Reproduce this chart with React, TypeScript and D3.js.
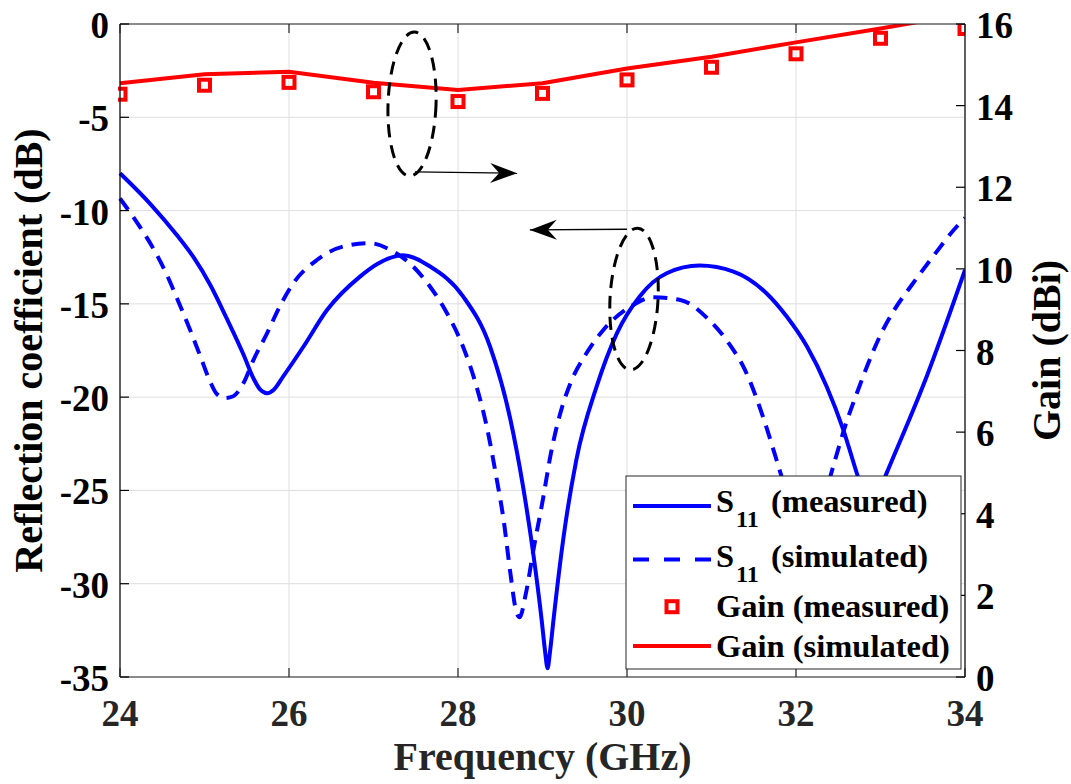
import React from 'react';
import * as d3 from 'd3';

// ---------- data ----------
const xTicks = [24, 26, 28, 30, 32, 34];
const yLeftTicks = [0, -5, -10, -15, -20, -25, -30, -35];
const yRightTicks = [0, 2, 4, 6, 8, 10, 12, 14, 16];

const s11MeasFreq = [24.0, 24.36, 24.67, 24.87, 25.07, 25.26, 25.46, 25.58, 25.66, 25.74, 25.82, 25.93, 26.17, 26.45, 26.84, 27.05, 27.35, 27.67, 28.06, 28.38, 28.62, 28.77, 28.89, 28.99, 29.03, 29.06, 29.09, 29.13, 29.25, 29.4, 29.64, 29.88, 30.15, 30.47, 30.86, 31.26, 31.65, 31.89, 32.13, 32.36, 32.56, 32.72, 32.8, 32.88, 32.96, 33.07, 33.55, 34.0];
const s11MeasDb = [-8.0, -9.65, -11.3, -12.5, -14.0, -15.75, -17.7, -19.0, -19.6, -19.79, -19.6, -18.9, -17.3, -15.33, -13.54, -12.85, -12.4, -13.0, -14.6, -17.3, -21.2, -24.8, -28.37, -31.94, -33.6, -34.53, -33.6, -31.94, -27.47, -23.37, -19.44, -16.58, -14.6, -13.36, -12.95, -13.27, -14.43, -15.68, -17.29, -19.4, -21.75, -24.08, -25.2, -25.8, -25.3, -24.1, -18.85, -13.18];

const s11SimFreq = [24.0, 24.24, 24.39, 24.55, 24.67, 24.83, 24.95, 25.07, 25.14, 25.24, 25.34, 25.46, 25.58, 25.74, 25.89, 26.05, 26.33, 26.64, 26.96, 27.2, 27.43, 27.67, 27.87, 28.06, 28.22, 28.34, 28.46, 28.54, 28.62, 28.69, 28.73, 28.8, 28.9, 29.0, 29.1, 29.2, 29.33, 29.52, 29.72, 30.04, 30.31, 30.63, 30.97, 31.21, 31.4, 31.54, 31.66, 31.77, 31.9, 32.05, 32.12, 32.2, 32.32, 32.44, 32.58, 32.72, 32.84, 32.99, 33.15, 33.37, 33.59, 33.92, 34.0];
const s11SimDb = [-9.35, -10.9, -12.0, -13.4, -14.65, -16.4, -17.8, -19.2, -19.8, -20.05, -19.95, -19.26, -18.0, -16.58, -15.15, -13.9, -12.65, -11.93, -11.75, -12.11, -12.83, -14.08, -15.5, -17.3, -19.44, -21.58, -24.44, -26.58, -29.44, -31.5, -31.8, -30.6, -28.0, -25.6, -23.0, -21.04, -19.26, -17.65, -16.4, -15.15, -14.65, -14.79, -15.86, -17.15, -18.58, -20.15, -21.76, -23.37, -25.3, -27.2, -27.6, -27.2, -25.6, -23.72, -21.58, -19.79, -18.36, -16.76, -15.42, -13.99, -12.65, -10.77, -10.4];

const gainFreq = [24, 25, 26, 27, 28, 29, 30, 31, 32, 33, 34];
const gainMeas = [14.28, 14.5, 14.57, 14.34, 14.1, 14.3, 14.63, 14.94, 15.27, 15.65, 15.89];
const gainSim = [14.55, 14.77, 14.83, 14.56, 14.38, 14.55, 14.91, 15.2, 15.55, 15.89, 16.25];

const legendLabels = ['(measured)', '(simulated)', 'Gain (measured)', 'Gain (simulated)'];

// annotation positions in data units (GHz, dB)
const ellipses = [
  { f: 27.456, db: -4.29, rf: 0.284, rdb: 3.86, rot: 2 },
  { f: 30.083, db: -14.74, rf: 0.284, rdb: 3.8, rot: 3 },
];
const arrows = [
  { f0: 27.49, db0: -7.93, f1: 28.7, db1: -8.0 },
  { f0: 30.0, db0: -11.0, f1: 28.85, db1: -11.04 },
];

const FONT = "'Liberation Serif','Times New Roman',Times,serif";

export default function App() {
  const L = 120, R = 965, T = 24, B = 677;
  const x = d3.scaleLinear().domain([24, 34]).range([L, R]);
  const yL = d3.scaleLinear().domain([-35, 0]).range([B, T]);
  const yR = d3.scaleLinear().domain([0, 16]).range([B, T]);

  const mk = (fs: number[], vs: number[], ys: d3.ScaleLinear<number, number>, curve: any) =>
    d3.line<number>().x((_, i) => x(fs[i])).y((v) => ys(v)).curve(curve)(vs) || '';

  const pMeas = mk(s11MeasFreq, s11MeasDb, yL, d3.curveMonotoneX);
  const pSim = mk(s11SimFreq, s11SimDb, yL, d3.curveMonotoneX);
  const pGain = mk(gainFreq, gainSim, yR, d3.curveLinear);

  const axisColor = '#262626';
  const gridColor = '#dedede';
  const tickLen = 9;
  const tickFont = 37;
  const labelFont = 40;
  const legFont = 32.5;

  const arrowHead = (x1: number, y1: number, x0: number, y0: number) => {
    const ang = Math.atan2(y1 - y0, x1 - x0);
    const c = Math.cos(ang), s = Math.sin(ang);
    const pt = (back: number, side: number) => [x1 - back * c - side * s, y1 - back * s + side * c];
    const p = [pt(0, 0), pt(27, 10), pt(18, 0), pt(27, -10)];
    return 'M' + p.map((q) => q.join(',')).join('L') + 'Z';
  };

  // legend geometry
  const lgX0 = 626, lgX1 = 961, lgY0 = 476, lgY1 = 669;
  const rowsY = [506, 559.5, 606.7, 646];

  return (
    <svg width={1071} height={784} style={{ position: 'absolute', left: 0, top: 0, background: '#fff' }}
      fontFamily={FONT} fontWeight="bold">
      <defs>
        <clipPath id="plotclip">
          <rect x={L - 2} y={T} width={R - L + 2} height={B - T} />
        </clipPath>
      </defs>
      <rect x={0} y={0} width={1071} height={784} fill="#fff" />
      {/* grid */}
      {xTicks.map((t) => (
        <line key={'gx' + t} x1={x(t)} x2={x(t)} y1={T} y2={B} stroke={gridColor} strokeWidth={1} />
      ))}
      {yLeftTicks.map((t) => (
        <line key={'gy' + t} x1={L} x2={R} y1={yL(t)} y2={yL(t)} stroke={gridColor} strokeWidth={1} />
      ))}

      {/* data */}
      <g clipPath="url(#plotclip)">
        <path d={pMeas} fill="none" stroke="#0000ff" strokeWidth={4} strokeLinejoin="round" />
        <path d={pSim} fill="none" stroke="#0000ff" strokeWidth={4} strokeDasharray="14 9" />
        {gainFreq.map((f, i) => (
          <rect key={'gm' + f} x={x(f) - 5.5} y={yR(gainMeas[i]) - 5.5} width={11} height={11}
            fill="none" stroke="#ff0000" strokeWidth={4} />
        ))}
        <path d={pGain} fill="none" stroke="#ff0000" strokeWidth={4} />
      </g>

      {/* annotations */}
      {ellipses.map((e, i) => (
        <ellipse key={'el' + i} cx={x(e.f)} cy={yL(e.db)} rx={x(e.f + e.rf) - x(e.f)} ry={yL(e.db - e.rdb) - yL(e.db)}
          transform={`rotate(${e.rot},${x(e.f)},${yL(e.db)})`}
          fill="none" stroke="#000" strokeWidth={3} strokeDasharray="13 8" />
      ))}
      {arrows.map((a, i) => (
        <g key={'ar' + i}>
          <line x1={x(a.f0)} y1={yL(a.db0)} x2={x(a.f1)} y2={yL(a.db1)} stroke="#000" strokeWidth={1.3} />
          <path d={arrowHead(x(a.f1), yL(a.db1), x(a.f0), yL(a.db0))} fill="#000" />
        </g>
      ))}

      {/* axes box */}
      <line x1={L} x2={R} y1={T} y2={T} stroke={axisColor} strokeWidth={1.2} />
      <line x1={L} x2={R} y1={B} y2={B} stroke={axisColor} strokeWidth={1.2} />
      <line x1={L} x2={L} y1={T} y2={B} stroke="#000" strokeWidth={1.2} />
      <line x1={R} x2={R} y1={T} y2={B} stroke="#000" strokeWidth={1.2} />

      {/* x ticks */}
      {xTicks.map((t) => (
        <g key={'xt' + t}>
          <line x1={x(t)} x2={x(t)} y1={B} y2={B - tickLen} stroke={axisColor} strokeWidth={1.2} />
          <line x1={x(t)} x2={x(t)} y1={T} y2={T + tickLen} stroke={axisColor} strokeWidth={1.2} />
          <text x={x(t)} y={B + 49} textAnchor="middle" fontSize={tickFont} fill={axisColor}>{t}</text>
        </g>
      ))}
      {/* left ticks */}
      {yLeftTicks.map((t) => (
        <g key={'yl' + t}>
          <line x1={L} x2={L + tickLen} y1={yL(t)} y2={yL(t)} stroke="#000" strokeWidth={1.2} />
          <text x={L - 11} y={yL(t) + 14} textAnchor="end" fontSize={tickFont} fill="#000">{t}</text>
        </g>
      ))}
      {/* right ticks */}
      {yRightTicks.map((t) => (
        <g key={'yr' + t}>
          <line x1={R} x2={R - tickLen} y1={yR(t)} y2={yR(t)} stroke="#000" strokeWidth={1.2} />
          <text x={R + 11} y={yR(t) + 14} textAnchor="start" fontSize={tickFont} fill="#000">{t}</text>
        </g>
      ))}

      {/* axis labels */}
      <text x={(L + R) / 2} y={770} textAnchor="middle" fontSize={labelFont} fill={axisColor}>Frequency (GHz)</text>
      <text transform={`translate(42,${(T + B) / 2}) rotate(-90)`} textAnchor="middle" fontSize={labelFont} fill="#000">Reflection coefficient (dB)</text>
      <text transform={`translate(1060,${(T + B) / 2}) rotate(-90)`} textAnchor="middle" fontSize={labelFont} fill="#000">Gain (dBi)</text>

      {/* legend */}
      <rect x={lgX0} y={lgY0} width={lgX1 - lgX0} height={lgY1 - lgY0} fill="#fff" stroke={axisColor} strokeWidth={1} />
      <line x1={633} x2={711} y1={rowsY[0]} y2={rowsY[0]} stroke="#0000ff" strokeWidth={4} />
      <line x1={633} x2={711} y1={rowsY[1]} y2={rowsY[1]} stroke="#0000ff" strokeWidth={4} strokeDasharray="16 15" />
      <rect x={672 - 5.5} y={rowsY[2] - 5.5} width={11} height={11} fill="none" stroke="#ff0000" strokeWidth={4} />
      <line x1={633} x2={711} y1={rowsY[3]} y2={rowsY[3]} stroke="#ff0000" strokeWidth={4} />

      <text x={716} y={512} fontSize={legFont} fill="#000">S</text>
      <text x={736} y={527} fontSize={24} fill="#000">11</text>
      <text x={771} y={512} fontSize={legFont} fill="#000">{legendLabels[0]}</text>
      <text x={716} y={567} fontSize={legFont} fill="#000">S</text>
      <text x={736} y={582} fontSize={24} fill="#000">11</text>
      <text x={771} y={567} fontSize={legFont} fill="#000">{legendLabels[1]}</text>
      <text x={716} y={617} fontSize={legFont} fill="#000">{legendLabels[2]}</text>
      <text x={716} y={657} fontSize={legFont} fill="#000">{legendLabels[3]}</text>
    </svg>
  );
}
